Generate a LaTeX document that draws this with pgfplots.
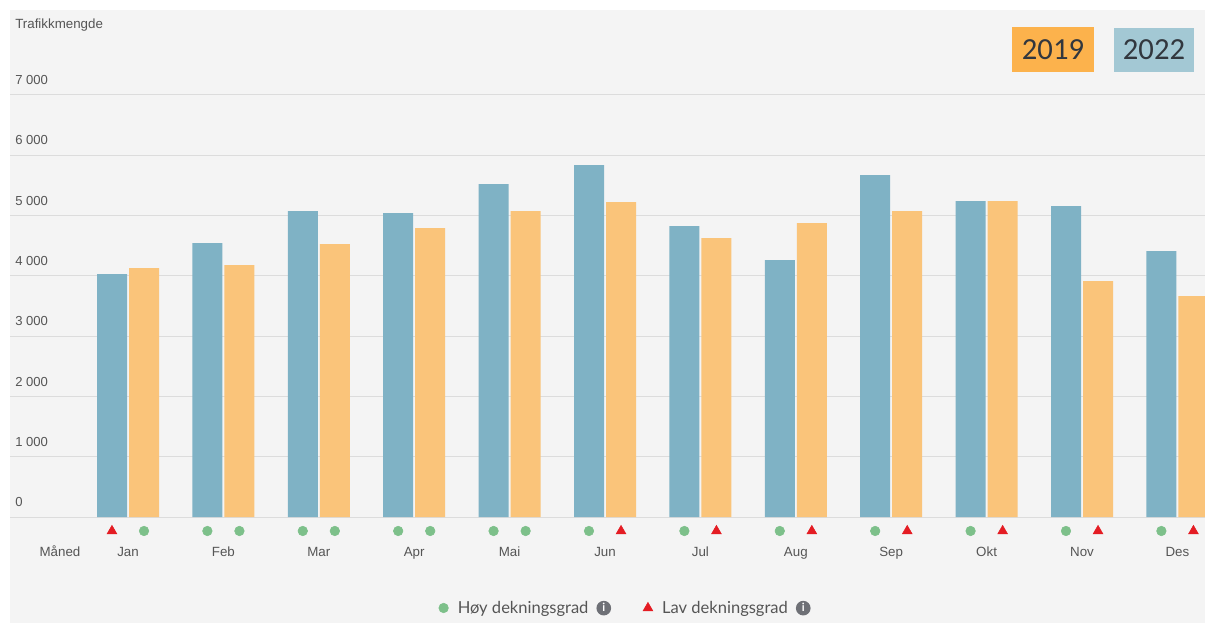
\documentclass[border=0pt]{standalone}
\usepackage{pgfplots}
\pgfplotsset{compat=1.18}
\usepackage{fontspec}
\setmainfont{Liberation Sans}
\newfontfamily\lato{Lato}
\newfontfamily\carlito{Carlito}
\definecolor{bgray}{RGB}{244,244,244}
\definecolor{gridc}{RGB}{220,220,220}
\definecolor{barblue}{RGB}{127,178,197}
\definecolor{barorange}{RGB}{250,196,122}
\definecolor{boxorange}{RGB}{252,178,76}
\definecolor{boxblue}{RGB}{163,200,212}
\definecolor{txt}{RGB}{85,85,85}
\definecolor{boxtxt}{RGB}{50,55,62}
\definecolor{mgreen}{RGB}{125,192,138}
\definecolor{mred}{RGB}{228,28,35}
\definecolor{icongray}{RGB}{110,112,118}
\newcommand{\infoicon}{\tikz[baseline=-0.6ex]{\node[circle,fill=icongray,text=white,inner sep=0pt,minimum size=11pt,font=\bfseries\fontsize{8.5}{8.5}\selectfont] at (0,0) {i};}}
\begin{document}
\begin{tikzpicture}
\path[use as bounding box] (0,0) rectangle (903.75pt,-467.25pt);
\fill[white] (0,0) rectangle (903.75pt,-467.25pt);
\fill[bgray] (7.5pt,-7.5pt) rectangle (903.75pt,-467.25pt);
\begin{axis}[
  at={(7.5pt,-405pt)}, anchor=south west,
  scale only axis, width=896.25pt, height=333.75pt,
  xmin=-1.2369, xmax=11.2893, ymin=-381.5, ymax=7000,
  axis line style={draw=none},
  major tick length=0pt,
  ytick={0,1000,2000,3000,4000,5000,6000,7000},
  yticklabels={0,1 000,2 000,3 000,4 000,5 000,6 000,7 000},
  ymajorgrids, grid style={gridc, line width=0.75pt},
  yticklabel style={anchor=south west, inner sep=0pt, xshift=3.75pt, yshift=7.5pt, font=\fontsize{9.8}{10}\selectfont, text=txt},
  xtick={0,1,2,3,4,5,6,7,8,9,10,11},
  xticklabels={Jan,Feb,Mar,Apr,Mai,Jun,Jul,Aug,Sep,Okt,Nov,Des},
  extra x ticks={-0.713}, extra x tick labels={Måned},
  extra x tick style={grid=none},
  xticklabel style={anchor=base, inner sep=0pt, yshift=-12pt, font=\fontsize{10}{10}\selectfont, text=txt},
  legend style={at={(0.5155,-0.1528)}, anchor=center, draw=none, fill=none,
    font=\lato\fontsize{12.4}{12.4}\selectfont, text=txt, legend columns=2,
    /tikz/every odd column/.append style={column sep=5pt},
    /tikz/every even column/.append style={column sep=22pt}},
  legend cell align=left,
]
% 2022 (blue)
\addplot[ybar, bar width=22.5pt, bar shift=-12pt, fill=barblue, draw=none, forget plot] coordinates {
(0,4030) (1,4544) (2,5075) (3,5041) (4,5522) (5,5837) (6,4826) (7,4262) (8,5672) (9,5240) (10,5158) (11,4411)};
% 2019 (orange)
\addplot[ybar, bar width=22.5pt, bar shift=12pt, fill=barorange, draw=none, forget plot] coordinates {
(0,4129) (1,4179) (2,4527) (3,4793) (4,5075) (5,5224) (6,4627) (7,4876) (8,5075) (9,5240) (10,3914) (11,3665)};
% Høy dekningsgrad
\addplot[only marks, mark=*, mark size=3.6pt, mgreen, mark options={draw=mgreen, fill=mgreen}] coordinates {
(0.168,-232) (0.832,-232) (1.168,-232) (1.832,-232) (2.168,-232) (2.832,-232) (3.168,-232) (3.832,-232) (4.168,-232)
(4.832,-232) (5.832,-232) (6.832,-232) (7.832,-232) (8.832,-232) (9.832,-232) (10.832,-232)};
\addlegendentry{Høy dekningsgrad\hspace{6pt}\infoicon}
% Lav dekningsgrad
\addplot[only marks, mark=triangle*, mark size=4.2pt, mred, mark options={draw=mred, fill=mred}] coordinates {
(-0.168,-232) (5.168,-232) (6.168,-232) (7.168,-232) (8.168,-232) (9.168,-232) (10.168,-232) (11.168,-232)};
\addlegendentry{Lav dekningsgrad\hspace{6pt}\infoicon}
\end{axis}
\node[anchor=west, inner sep=0pt, text=txt, font=\fontsize{10}{10}\selectfont] at (11.25pt,-19pt) {Trafikkmengde};
\node[fill=boxorange, minimum width=61.5pt, minimum height=33.75pt, inner sep=0pt, text=boxtxt, font=\carlito\fontsize{23}{23}\selectfont] at (789.75pt,-37.1pt) {2019};
\node[fill=boxblue, minimum width=60pt, minimum height=33pt, inner sep=0pt, text=boxtxt, font=\carlito\fontsize{23}{23}\selectfont] at (865.5pt,-37.5pt) {2022};
\end{tikzpicture}
\end{document}
